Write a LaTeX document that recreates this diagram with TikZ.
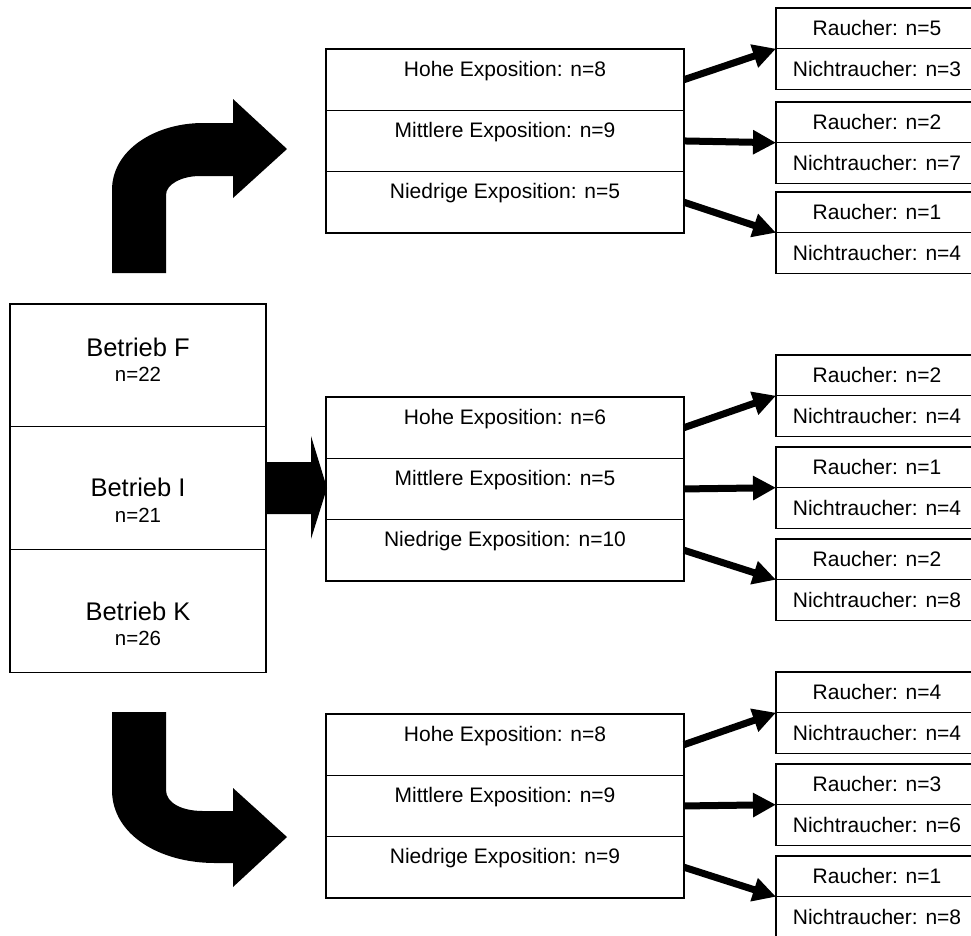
\documentclass[tikz,border=0pt]{standalone}
\usepackage{fontspec}
\setmainfont{Liberation Sans}
\usepackage{tikz}
\usetikzlibrary{arrows.meta}
\usetikzlibrary{positioning}

\tikzset{
	box/.style={draw, line width=1.2pt, shape=rectangle, inner sep=0pt, outer sep=0pt},
	expo/.style={box, minimum width=358pt, minimum height=61.3pt, text height=15pt, text depth=22.3pt, font=\fontsize{21}{25}\selectfont},
	smoke/.style={box, minimum width=202pt, minimum height=40.7pt, font=\fontsize{21}{25}\selectfont},
	plant/.style={box, minimum width=256pt, minimum height=122.7pt},
	plantname/.style={anchor=base, inner sep=0pt, font=\fontsize{25.5}{30}\selectfont},
	plantn/.style={anchor=base, inner sep=0pt, font=\fontsize{20.5}{24}\selectfont},
	fat/.style={line width=7pt, -{Triangle[length=23pt, width=23pt]}},
}

\begin{document}
\begin{tikzpicture}[x=1pt, y=-1pt]
		\clip (0, 0) rectangle (971, 935);
		% Betriebe:
		\node[plant] (BF) at (138, 365.35){};
		\node[plant, below=0pt of BF] (BI){};
		\node[plant, below=0pt of BI] (BK){};
		\node[plantname] (BFa) at ([yshift=-52pt]BF.north){Betrieb F};
		\node[plantn] (BFb) at ([yshift=-77pt]BF.north){n=22};
		\node[plantname] (BIa) at ([yshift=-70pt]BI.north){Betrieb I};
		\node[plantn] (BIb) at ([yshift=-96pt]BI.north){n=21};
		\node[plantname] (BKa) at ([yshift=-71pt]BK.north){Betrieb K};
		\node[plantn] (BKb) at ([yshift=-96pt]BK.north){n=26};
		% big arrows:
		\fill (112, 273) -- (112, 190) .. controls (112, 150) and (155, 123) .. (203, 123) -- (233, 123) -- (233, 99) -- (287, 149) -- (233, 198) -- (233, 176) -- (200, 176) .. controls (182, 176) and (166, 184) .. (166, 195) -- (166, 273) -- cycle;
		\fill (266, 462) -- (311, 462) -- (311, 436) -- (327, 488) -- (311, 539) -- (311, 514) -- (266, 514) -- cycle;
		\fill (112, 712) -- (112, 790) .. controls (112, 835) and (160, 863) .. (215, 863) -- (233, 863) -- (233, 887) -- (287, 837) -- (233, 788) -- (233, 811) -- (203, 811) .. controls (182, 811) and (166, 803) .. (166, 790) -- (166, 712) -- cycle;
		% Expositionen F:
		\node[expo] (FH) at (505, 79.65){Hohe Exposition: n=8};
		\node[expo, below=0pt of FH] (FM){Mittlere Exposition: n=9};
		\node[expo, below=0pt of FM] (FN){Niedrige Exposition: n=5};
		\node[smoke] (FHr) at (877, 28.35){Raucher: n=5};
		\node[smoke, below=0pt of FHr] (FHn){Nichtraucher: n=3};
		\node[smoke] (FMr) at (877, 122.35){Raucher: n=2};
		\node[smoke, below=0pt of FMr] (FMn){Nichtraucher: n=7};
		\node[smoke] (FNr) at (877, 212.35){Raucher: n=1};
		\node[smoke, below=0pt of FNr] (FNn){Nichtraucher: n=4};
		\draw[fat] (FH.east) -- (FHr.south west);
		\draw[fat] (FM.east) -- (FMr.south west);
		\draw[fat] (FN.east) -- (FNr.south west);
		% Expositionen I:
		\node[expo] (IH) at (505, 427.65){Hohe Exposition: n=6};
		\node[expo, below=0pt of IH] (IM){Mittlere Exposition: n=5};
		\node[expo, below=0pt of IM] (IN){Niedrige Exposition: n=10};
		\node[smoke] (IHr) at (877, 375.35){Raucher: n=2};
		\node[smoke, below=0pt of IHr] (IHn){Nichtraucher: n=4};
		\node[smoke] (IMr) at (877, 467.35){Raucher: n=1};
		\node[smoke, below=0pt of IMr] (IMn){Nichtraucher: n=4};
		\node[smoke] (INr) at (877, 559.35){Raucher: n=2};
		\node[smoke, below=0pt of INr] (INn){Nichtraucher: n=8};
		\draw[fat] (IH.east) -- (IHr.south west);
		\draw[fat] (IM.east) -- (IMr.south west);
		\draw[fat] (IN.east) -- (INr.south west);
		% Expositionen K:
		\node[expo] (KH) at (505, 744.65){Hohe Exposition: n=8};
		\node[expo, below=0pt of KH] (KM){Mittlere Exposition: n=9};
		\node[expo, below=0pt of KM] (KN){Niedrige Exposition: n=9};
		\node[smoke] (KHr) at (877, 692.35){Raucher: n=4};
		\node[smoke, below=0pt of KHr] (KHn){Nichtraucher: n=4};
		\node[smoke] (KMr) at (877, 784.35){Raucher: n=3};
		\node[smoke, below=0pt of KMr] (KMn){Nichtraucher: n=6};
		\node[smoke] (KNr) at (877, 876.35){Raucher: n=1};
		\node[smoke, below=0pt of KNr] (KNn){Nichtraucher: n=8};
		\draw[fat] (KH.east) -- (KHr.south west);
		\draw[fat] (KM.east) -- (KMr.south west);
		\draw[fat] (KN.east) -- (KNr.south west);
	\end{tikzpicture}
\end{document}
